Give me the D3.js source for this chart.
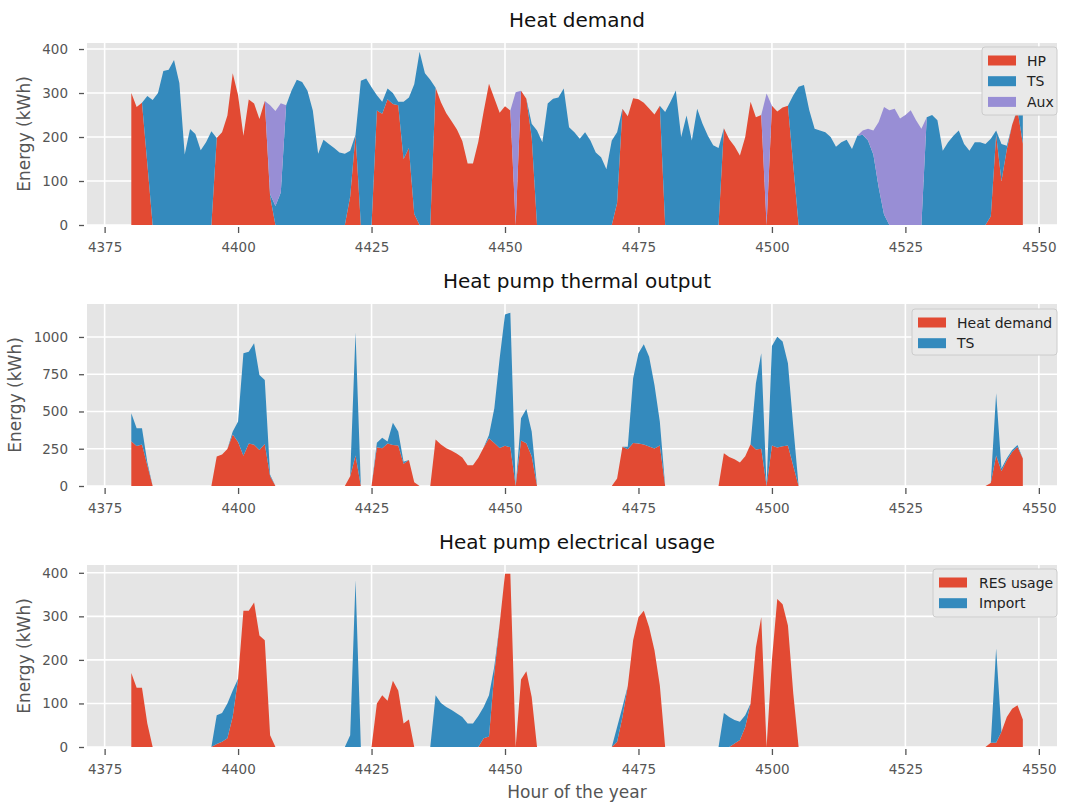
<!DOCTYPE html>
<html>
<head>
<meta charset="utf-8">
<script src="https://cdn.jsdelivr.net/npm/d3@7"></script>
<style>
  body { margin: 0; background: #fff; }
  text { font-family: "DejaVu Sans", "Noto Sans", sans-serif; }
</style>
</head>
<body>
<svg id="chart" width="1068" height="807"></svg>
<script>
// Hours of the year covered by the week shown (4380 .. 4547)
const hours = d3.range(4380, 4548);

// Heat demand met directly by the heat pump (kWh)
const hpHeat = [
  300, 268, 278, 140, 0, 0, 0, 0, 0, 0,
  0, 0, 0, 0, 0, 0, 198, 211, 249, 345,
  295, 203, 285, 276, 241, 282, 65, 0, 0, 0,
  0, 0, 0, 0, 0, 0, 0, 0, 0, 0,
  0, 65, 205, 0, 0, 0, 260, 253, 286, 275,
  272, 150, 175, 25, 0, 0, 0, 312, 279, 254,
  236, 217, 191, 140, 140, 189, 258, 321, 288, 255,
  270, 260, 0, 305, 287, 200, 0, 0, 0, 0,
  0, 0, 0, 0, 0, 0, 0, 0, 0, 0,
  0, 50, 264, 247, 288, 286, 278, 265, 251, 271,
  0, 0, 0, 0, 0, 0, 0, 0, 0, 0,
  0, 220, 195, 179, 158, 200, 280, 245, 250, 0,
  271, 258, 267, 271, 135, 0, 0, 0, 0, 0,
  0, 0, 0, 0, 0, 0, 0, 0, 0, 0,
  0, 0, 0, 0, 0, 0, 0, 0, 0, 0,
  0, 0, 0, 0, 0, 0, 0, 0, 0, 0,
  0, 20, 205, 100, 172, 228, 262, 185
];

// Heat demand met from thermal storage discharge (kWh)
const tsDischarge = [
  0, 0, 0, 153, 284, 300, 350, 353, 375, 323,
  160, 218, 207, 170, 188, 213, 0, 0, 0, 0,
  0, 0, 0, 0, 0, 0, 5, 43, 74, 272,
  305, 330, 325, 305, 260, 162, 194, 184, 175, 165,
  162, 104, 0, 328, 333, 313, 35, 27, 24, 25,
  8, 130, 115, 295, 394, 345, 330, 0, 0, 0,
  0, 0, 0, 0, 0, 0, 0, 0, 0, 0,
  0, 0, 0, 0, 0, 30, 215, 188, 276, 287,
  290, 310, 222, 211, 196, 211, 192, 165, 154, 127,
  192, 161, 0, 0, 0, 0, 0, 0, 0, 0,
  257, 280, 306, 200, 249, 192, 264, 230, 203, 181,
  175, 0, 0, 0, 0, 0, 0, 0, 0, 0,
  0, 0, 0, 0, 160, 314, 318, 261, 219, 215,
  211, 200, 178, 188, 194, 173, 203, 205, 192, 160,
  85, 24, 0, 0, 0, 0, 0, 0, 0, 245,
  250, 238, 169, 188, 203, 215, 184, 169, 188, 188,
  184, 176, 10, 84, 8, 0, 3, 80
];

// Heat demand met by the auxiliary heater (kWh)
const auxHeat = [
  0, 0, 0, 0, 0, 0, 0, 0, 0, 0,
  0, 0, 0, 0, 0, 0, 0, 0, 0, 0,
  0, 0, 0, 0, 0, 0, 202, 216, 203, 0,
  0, 0, 0, 0, 0, 0, 0, 0, 0, 0,
  0, 0, 0, 0, 0, 0, 0, 0, 0, 0,
  0, 0, 0, 0, 0, 0, 0, 0, 0, 0,
  0, 0, 0, 0, 0, 0, 0, 0, 0, 0,
  0, 0, 302, 0, 0, 0, 0, 0, 0, 0,
  0, 0, 0, 0, 0, 0, 0, 0, 0, 0,
  0, 0, 0, 0, 0, 0, 0, 0, 0, 0,
  0, 0, 0, 0, 0, 0, 0, 0, 0, 0,
  0, 0, 0, 0, 0, 0, 0, 0, 0, 299,
  0, 0, 0, 0, 0, 0, 0, 0, 0, 0,
  0, 0, 0, 0, 0, 0, 0, 10, 27, 55,
  149, 244, 261, 264, 242, 250, 261, 238, 219, 0,
  0, 0, 0, 0, 0, 0, 0, 0, 0, 0,
  0, 0, 0, 0, 0, 0, 0, 0
];

// Heat pump output sent to charge the thermal storage (kWh)
const tsCharge = [
  188, 119, 109, 20, 0, 0, 0, 0, 0, 0,
  0, 0, 0, 0, 0, 0, 0, 0, 0, 20,
  137, 687, 616, 681, 504, 429, 10, 0, 0, 0,
  0, 0, 0, 0, 0, 0, 0, 0, 0, 0,
  0, 0, 825, 0, 0, 0, 30, 71, 12, 150,
  93, 13, 0, 0, 0, 0, 0, 0, 0, 0,
  0, 0, 0, 0, 0, 0, 0, 21, 233, 602,
  880, 903, 0, 149, 230, 165, 0, 0, 0, 0,
  0, 0, 0, 0, 0, 0, 0, 0, 0, 0,
  0, 0, 0, 17, 435, 604, 673, 603, 427, 161,
  0, 0, 0, 0, 0, 0, 0, 0, 0, 0,
  0, 0, 0, 0, 0, 0, 0, 444, 640, 0,
  669, 744, 702, 552, 265, 0, 0, 0, 0, 0,
  0, 0, 0, 0, 0, 0, 0, 0, 0, 0,
  0, 0, 0, 0, 0, 0, 0, 0, 0, 0,
  0, 0, 0, 0, 0, 0, 0, 0, 0, 0,
  0, 0, 417, 18, 14, 13, 13, 0
];

// Heat pump electricity covered by local renewables (kWh)
const resUse = [
  170, 136, 136, 54, 0, 0, 0, 0, 0, 0,
  0, 0, 0, 0, 0, 0, 7, 12, 20, 70,
  157, 313, 313, 332, 256, 245, 27, 0, 0, 0,
  0, 0, 0, 0, 0, 0, 0, 0, 0, 0,
  0, 0, 0, 0, 0, 0, 100, 119, 106, 152,
  130, 54, 63, 0, 0, 0, 0, 0, 0, 0,
  0, 0, 0, 0, 0, 0, 20, 24, 170, 283,
  398, 398, 0, 155, 174, 115, 0, 0, 0, 0,
  0, 0, 0, 0, 0, 0, 0, 0, 0, 0,
  0, 12, 69, 140, 245, 298, 313, 275, 222, 142,
  0, 0, 0, 0, 0, 0, 0, 0, 0, 0,
  0, 0, 0, 8, 16, 46, 100, 229, 298, 0,
  200, 340, 328, 279, 123, 0, 0, 0, 0, 0,
  0, 0, 0, 0, 0, 0, 0, 0, 0, 0,
  0, 0, 0, 0, 0, 0, 0, 0, 0, 0,
  0, 0, 0, 0, 0, 0, 0, 0, 0, 0,
  0, 10, 10, 35, 69, 88, 96, 63
];

// Heat pump electricity imported from the grid (kWh)
const gridImport = [
  0, 0, 0, 0, 0, 0, 0, 0, 0, 0,
  0, 0, 0, 0, 0, 0, 66, 66, 80, 60,
  0, 0, 0, 0, 0, 0, 0, 0, 0, 0,
  0, 0, 0, 0, 0, 0, 0, 0, 0, 0,
  0, 27, 383, 0, 0, 0, 0, 0, 0, 0,
  0, 0, 0, 0, 0, 0, 0, 119, 101, 92,
  85, 77, 69, 54, 54, 71, 72, 95, 15, 0,
  0, 0, 0, 0, 0, 0, 0, 0, 0, 0,
  0, 0, 0, 0, 0, 0, 0, 0, 0, 0,
  0, 34, 23, 0, 0, 0, 0, 0, 0, 0,
  0, 0, 0, 0, 0, 0, 0, 0, 0, 0,
  0, 78, 69, 54, 42, 27, 0, 0, 0, 0,
  0, 0, 0, 0, 0, 0, 0, 0, 0, 0,
  0, 0, 0, 0, 0, 0, 0, 0, 0, 0,
  0, 0, 0, 0, 0, 0, 0, 0, 0, 0,
  0, 0, 0, 0, 0, 0, 0, 0, 0, 0,
  0, 0, 216, 0, 0, 0, 0, 0
];

// Tick labels
const xTicks = [4375, 4400, 4425, 4450, 4475, 4500, 4525, 4550];
const yTicksDemand = [0, 100, 200, 300, 400];
const yTicksThermal = [0, 250, 500, 750, 1000];
const yTicksElectric = [0, 100, 200, 300, 400];

// ggplot-style palette
const RED = "#E24A33", BLUE = "#348ABD", PURPLE = "#988ED5";

const panels = [
  {
    title: "Heat demand", top: 43,
    names: ["HP", "TS", "Aux"], series: [hpHeat, tsDischarge, auxHeat],
    colors: [RED, BLUE, PURPLE], yTicks: yTicksDemand, ylabelX: 29.5,
    legend: { x: 982, y: 47, w: 75, h: 68, textX: 1027 }
  },
  {
    title: "Heat pump thermal output", top: 304,
    names: ["Heat demand", "TS"], series: [hpHeat, tsCharge],
    colors: [RED, BLUE], yTicks: yTicksThermal, ylabelX: 20.5,
    legend: { x: 912, y: 309, w: 145, h: 46, textX: 957 }
  },
  {
    title: "Heat pump electrical usage", top: 565,
    names: ["RES usage", "Import"], series: [resUse, gridImport],
    colors: [RED, BLUE], yTicks: yTicksElectric, ylabelX: 29.5,
    legend: { x: 933, y: 569, w: 124, h: 48, textX: 979 }
  }
];

const svg = d3.select("#chart");
svg.append("rect").attr("width", 1068).attr("height", 807).attr("fill", "#fff");

const left = 87, right = 1057, plotH = 182;
const x = d3.scaleLinear().domain([4371.7, 4553.4]).range([left, right]);
const titleCenter = 577;

panels.forEach((p, pi) => {
  const bottom = p.top + plotH;
  const rows = hours.map((h, i) => {
    const r = { hour: h };
    p.names.forEach((n, k) => { r[n] = p.series[k][i]; });
    return r;
  });
  const stacked = d3.stack().keys(p.names)(rows);
  const ymax = d3.max(stacked[stacked.length - 1], d => d[1]);
  const y = d3.scaleLinear().domain([0, ymax * 1.05]).range([bottom, p.top]);

  const g = svg.append("g");

  // panel background
  g.append("rect").attr("x", left).attr("y", p.top)
    .attr("width", right - left).attr("height", plotH).attr("fill", "#E5E5E5");

  // white grid
  g.append("g").selectAll("line").data(xTicks).join("line")
    .attr("x1", d => x(d)).attr("x2", d => x(d))
    .attr("y1", p.top).attr("y2", bottom)
    .attr("stroke", "#fff").attr("stroke-width", 1.6);
  g.append("g").selectAll("line").data(p.yTicks).join("line")
    .attr("x1", left).attr("x2", right)
    .attr("y1", d => y(d)).attr("y2", d => y(d))
    .attr("stroke", "#fff").attr("stroke-width", 1.6);

  // stacked areas
  const clipId = "clip" + pi;
  svg.append("clipPath").attr("id", clipId).append("rect")
    .attr("x", left).attr("y", p.top).attr("width", right - left).attr("height", plotH);
  const area = d3.area()
    .x(d => x(d.data.hour))
    .y0(d => y(d[0]))
    .y1(d => y(d[1]));
  g.append("g").attr("clip-path", `url(#${clipId})`)
    .selectAll("path").data(stacked).join("path")
    .attr("d", area)
    .attr("fill", (d, i) => p.colors[i]);

  // x axis
  const xAxis = g.append("g").attr("transform", `translate(0,${bottom + 2})`)
    .call(d3.axisBottom(x).tickValues(xTicks).tickFormat(d3.format("d"))
      .tickSize(6).tickPadding(9.4));
  // y axis
  const yAxis = g.append("g").attr("transform", `translate(${left - 3},0)`)
    .call(d3.axisLeft(y).tickValues(p.yTicks).tickFormat(d3.format("d"))
      .tickSize(5).tickPadding(11));
  [xAxis, yAxis].forEach(a => {
    a.select(".domain").remove();
    a.selectAll(".tick line").attr("stroke", "#555").attr("stroke-width", 1.3);
    a.selectAll(".tick text").attr("fill", "#555").attr("font-size", 13.5)
      .attr("font-family", '"DejaVu Sans", sans-serif');
  });

  // title
  g.append("text").attr("x", titleCenter).attr("y", p.top - 16)
    .attr("text-anchor", "middle").attr("font-size", 20).attr("fill", "#111")
    .text(p.title);

  // y label
  g.append("text")
    .attr("transform", `translate(${p.ylabelX},${(p.top + bottom) / 2}) rotate(-90)`)
    .attr("text-anchor", "middle").attr("font-size", 17).attr("fill", "#555")
    .text("Energy (kWh)");

  // legend
  const L = p.legend;
  const lg = g.append("g");
  lg.append("rect").attr("x", L.x).attr("y", L.y).attr("width", L.w).attr("height", L.h)
    .attr("rx", 3).attr("fill", "#E9E9E9").attr("stroke", "#CCCCCC").attr("stroke-width", 1);
  p.names.forEach((n, i) => {
    const cy = L.y + 13.5 + i * 20.7;
    lg.append("rect").attr("x", L.x + 6).attr("y", cy - 5).attr("width", 28).attr("height", 10)
      .attr("fill", p.colors[i]);
    lg.append("text").attr("x", L.textX).attr("y", cy + 5).attr("font-size", 14)
      .attr("fill", "#222").text(n);
  });
});

// shared x label
svg.append("text").attr("x", titleCenter).attr("y", 798)
  .attr("text-anchor", "middle").attr("font-size", 17).attr("fill", "#555")
  .text("Hour of the year");
</script>
</body>
</html>
